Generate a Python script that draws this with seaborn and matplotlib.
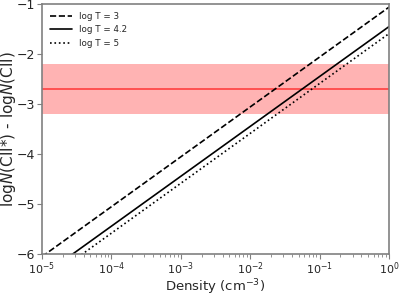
import numpy as np
import pandas as pd
import matplotlib
matplotlib.use('Agg')
import matplotlib.pyplot as plt
import seaborn as sns

# Density grid (cm^-3) and log ratio values
density = [1e-5, 1e-4, 1e-3, 1e-2, 1e-1, 1e0]
ratio_logT3 = [-6.06, -5.06, -4.06, -3.06, -2.06, -1.06]
ratio_logT42 = [-6.45, -5.45, -4.45, -3.45, -2.45, -1.45]
ratio_logT5 = [-6.59, -5.59, -4.59, -3.59, -2.59, -1.59]
labels = ['log T = 3', 'log T = 4.2', 'log T = 5']
styles = ['--', '-', ':']

obs_value = -2.7
obs_err = 0.5

sns.set_style('ticks')
plt.rcParams['font.family'] = ['DejaVu Sans']
plt.rcParams['axes.edgecolor'] = 'gray'

fig, ax = plt.subplots(figsize=(3.99, 2.95), dpi=100)

for vals, lab, ls in zip([ratio_logT3, ratio_logT42, ratio_logT5], labels, styles):
    df = pd.DataFrame({'density': density, 'ratio': vals})
    sns.lineplot(data=df, x='density', y='ratio', ax=ax, color='black',
                 linestyle=ls, linewidth=1.2, label=lab)

ax.axhspan(obs_value - obs_err, obs_value + obs_err, color='#ffb3b3', lw=0, zorder=0)
ax.axhline(obs_value, color='#ff4040', lw=1.2, zorder=1)

ax.set_xscale('log')
ax.set_xlim(1e-5, 1)
ax.set_ylim(-6, -1)
ax.set_yticks([-6, -5, -4, -3, -2, -1])
ax.set_xlabel('Density (cm$^{-3}$)', fontsize=9.5)
ax.set_ylabel('log$N$(CII*) - log$N$(CII)', fontsize=11)
ax.xaxis.set_label_coords(0.5, -0.095)
ax.yaxis.set_label_coords(-0.068, 0.5)
ax.tick_params(axis='both', color='gray', length=3.5, pad=1.5)
ax.tick_params(axis='y', labelsize=9)
ax.tick_params(axis='x', labelsize=8)
ax.tick_params(axis='x', which='minor', color='gray', length=2)
for s in ax.spines.values():
    s.set_linewidth(1.2)
ax.legend(loc='upper left', frameon=False, fontsize=6.3, handlelength=2.5)

fig.subplots_adjust(left=0.105, right=0.975, top=0.986, bottom=0.14)
fig.savefig('out.png', dpi=100)
